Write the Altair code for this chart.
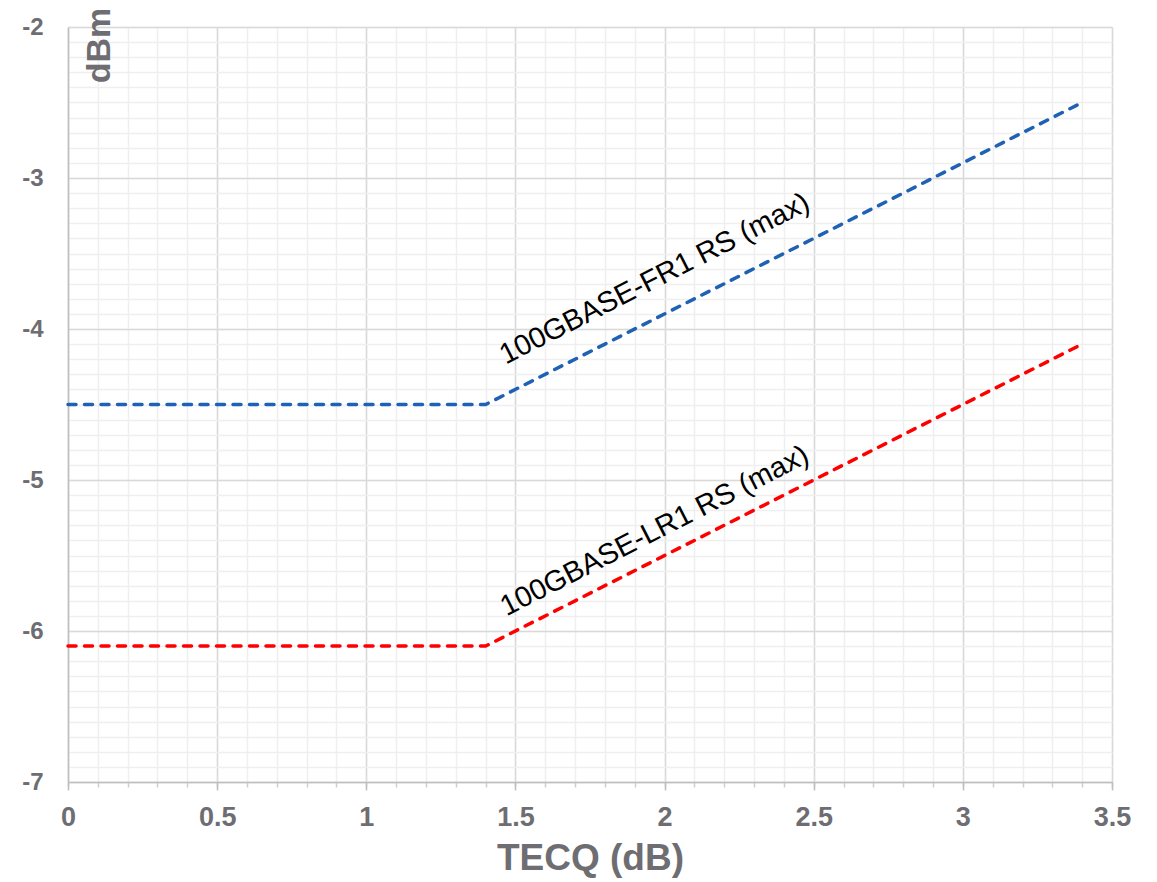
import altair as alt
import pandas as pd

# ---- data ----
tecq = [0.0, 1.4, 3.4]
fr1_dbm = [-4.5, -4.5, -2.5]
lr1_dbm = [-6.1, -6.1, -4.1]
series_names = ["100GBASE-FR1 RS (max)", "100GBASE-LR1 RS (max)"]
series_colors = ["#1f62b4", "#ff0000"]
label_x = [1.98, 1.98]
label_y = [-3.72, -5.39]

x_major = [0, 0.5, 1, 1.5, 2, 2.5, 3, 3.5]
x_minor = [round(i * 0.1, 1) for i in range(36)]
y_major = [-7, -6, -5, -4, -3, -2]
y_minor = [round(-7 + i * 0.1, 1) for i in range(51)]

rows = []
for name, vals in zip(series_names, [fr1_dbm, lr1_dbm]):
    for xv, yv in zip(tecq, vals):
        rows.append({"series": name, "tecq": xv, "dbm": yv})
df = pd.DataFrame(rows)
labels_df = pd.DataFrame({"series": series_names, "tecq": label_x, "dbm": label_y})

FONT = "Liberation Sans"
GREY = "#6d6d72"
xscale = alt.Scale(domain=[0, 3.5], nice=False, zero=False)
yscale = alt.Scale(domain=[-7, -2], nice=False, zero=False)
color = alt.Color("series:N", scale=alt.Scale(domain=series_names, range=series_colors), legend=None)

minor = alt.Chart(df).mark_point(opacity=0).encode(
    x=alt.X("tecq:Q", scale=xscale, axis=alt.Axis(
        orient="bottom", values=x_minor, grid=True, gridColor="#efefef", gridWidth=1.5,
        labels=False, domain=False, ticks=True, tickSize=5, tickColor="#cfcfcf",
        tickWidth=1.5, title=None)),
    y=alt.Y("dbm:Q", scale=yscale, axis=alt.Axis(
        orient="left", values=y_minor, grid=True, gridColor="#efefef", gridWidth=1.5,
        labels=False, domain=False, ticks=False, title=None)),
)

lines = alt.Chart(df).mark_line(strokeWidth=3.5, strokeDash=[8, 8.5], strokeCap="round").encode(
    x=alt.X("tecq:Q", scale=xscale, axis=alt.Axis(
        orient="bottom", values=x_major, grid=True, gridColor="#d9d9d9", gridWidth=1.5,
        domain=True, domainColor="#bfbfbf", domainWidth=1.5,
        ticks=True, tickSize=8, tickColor="#bfbfbf", tickWidth=1.5,
        labelFont=FONT, labelFontSize=27, labelFontWeight="bold", labelColor=GREY,
        labelPadding=14, labelFlush=False, labelExpr="'' + datum.value",
        title="TECQ (dB)", titleFont=FONT, titleFontSize=37, titleFontWeight="bold",
        titleColor=GREY, titleBaseline="top", titleY=58)),
    y=alt.Y("dbm:Q", scale=yscale, axis=alt.Axis(
        orient="left", values=y_major, grid=True, gridColor="#d9d9d9", gridWidth=1.5,
        domain=True, domainColor="#bfbfbf", domainWidth=1.5, ticks=False,
        labelFont=FONT, labelFontSize=24, labelFontWeight="bold", labelColor=GREY,
        labelPadding=25, labelExpr="'' + datum.value",
        title="dBm", titleFont=FONT, titleFontSize=34, titleFontWeight="bold",
        titleColor=GREY, titleAngle=270, titleAlign="center", titleBaseline="middle",
        titleX=31, titleY=18)),
    color=color,
    order=alt.Order("tecq:Q"),
)

texts = alt.Chart(labels_df).mark_text(
    angle=333, fontSize=29, font=FONT, color="black", align="center", baseline="alphabetic"
).encode(
    x=alt.X("tecq:Q", scale=xscale, axis=None),
    y=alt.Y("dbm:Q", scale=yscale, axis=None),
    text="series:N",
)

chart = alt.layer(minor, lines, texts).resolve_axis(
    x="independent", y="independent"
).properties(
    width=1044, height=755,
    autosize=alt.AutoSizeParams(type="none"),
    padding={"left": 60, "top": 19, "right": 37, "bottom": 100},
    background="white",
).configure_view(stroke=None)

chart.save("out.html", embed_options={"renderer": "svg", "actions": False})
